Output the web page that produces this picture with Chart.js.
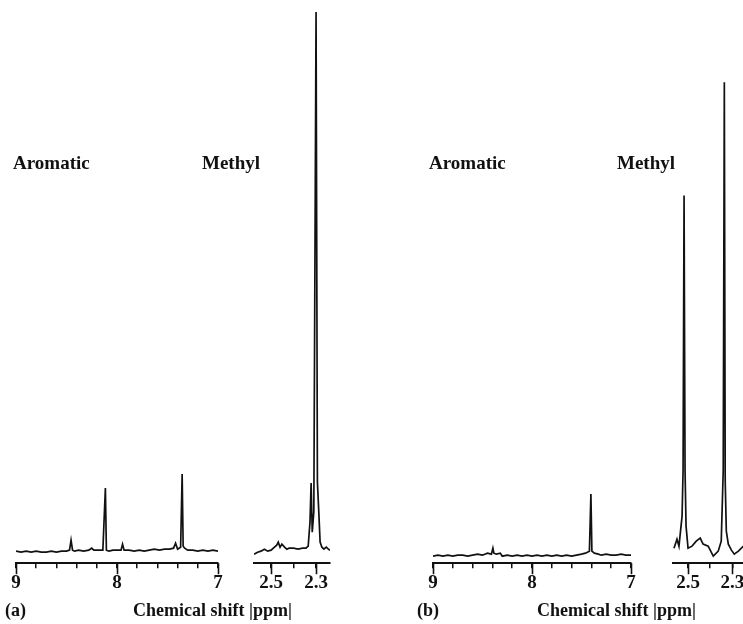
<!DOCTYPE html>
<html>
<head>
<meta charset="utf-8">
<script src="https://cdn.jsdelivr.net/npm/chart.js@4.4.0/dist/chart.umd.min.js"></script>
<style>
  body { margin: 0; background: #fff; }
  #fig { position: relative; width: 743px; height: 624px; overflow: hidden;
         font-family: 'Liberation Serif', 'Times New Roman', serif; font-weight: bold; color: #111; }
  #fig canvas { position: absolute; top: 0; }
  .lbl { position: absolute; line-height: 1; white-space: nowrap; }
  .region { font-size: 19px; }
  .foot { font-size: 18px; }
</style>
</head>
<body>
<div id="fig">
  <canvas id="aAro" width="242" height="624" style="left:-4px"></canvas>
  <canvas id="aMet" width="116" height="624" style="left:234px"></canvas>
  <canvas id="bAro" width="238" height="624" style="left:413px"></canvas>
  <canvas id="bMet" width="117" height="624" style="left:653px"></canvas>

  <div class="lbl region" style="left:13px;top:153px">Aromatic</div>
  <div class="lbl region" style="left:202px;top:153px">Methyl</div>
  <div class="lbl region" style="left:429px;top:153px">Aromatic</div>
  <div class="lbl region" style="left:617px;top:153px">Methyl</div>

  <div class="lbl foot" style="left:5px;top:601px">(a)</div>
  <div class="lbl foot" style="left:133px;top:601px">Chemical shift |ppm|</div>
  <div class="lbl foot" style="left:417px;top:601px">(b)</div>
  <div class="lbl foot" style="left:537px;top:601px">Chemical shift |ppm|</div>
</div>
<script>
// (a) aromatic region, 9 -> 7 ppm
var aAroPpm = [9.00, 8.95, 8.90, 8.85, 8.80, 8.75, 8.70, 8.65, 8.60, 8.55, 8.50, 8.47, 8.455, 8.44, 8.42, 8.38, 8.33, 8.28, 8.25, 8.23,
               8.18, 8.14, 8.115, 8.105, 8.08, 8.04, 8.00, 7.96, 7.945, 7.93, 7.88, 7.83, 7.78, 7.73, 7.68, 7.63, 7.58, 7.53, 7.48, 7.44,
               7.42, 7.40, 7.37, 7.355, 7.345, 7.33, 7.30, 7.25, 7.20, 7.15, 7.10, 7.05, 7.00];
var aAroInt = [1, 0, 1, 0, 1, 0, 0, 1, 0, 1, 1, 2, 12, 2, 1, 2, 1, 2, 4, 2,
               2, 2, 64, 2, 1, 2, 2, 2, 8, 2, 2, 1, 2, 1, 2, 3, 2, 3, 3, 4,
               9, 3, 5, 78, 6, 4, 2, 2, 1, 2, 1, 2, 1];

// (a) methyl region
var aMetPpm = [2.576, 2.56, 2.545, 2.53, 2.515, 2.50, 2.49, 2.475, 2.468, 2.46, 2.452, 2.44, 2.43, 2.42, 2.40, 2.38, 2.36, 2.345,
               2.335, 2.327, 2.322, 2.317, 2.31, 2.30, 2.294, 2.288, 2.282, 2.274, 2.265, 2.255, 2.245, 2.238];
var aMetInt = [-2, 0, 1, 3, 1, 2, 4, 7, 10, 5, 8, 5, 3, 4, 4, 3, 4, 4,
               6, 30, 69, 20, 40, 539, 70, 41, 10, 5, 3, 5, 3, 2];

// (b) aromatic region
var bAroPpm = [9.00, 8.95, 8.90, 8.85, 8.80, 8.75, 8.70, 8.65, 8.60, 8.55, 8.50, 8.45, 8.41, 8.395, 8.385, 8.36, 8.32, 8.30, 8.25, 8.20,
               8.15, 8.10, 8.05, 8.00, 7.95, 7.90, 7.85, 7.80, 7.75, 7.70, 7.65, 7.60, 7.55, 7.50, 7.46, 7.42, 7.405, 7.395, 7.37, 7.33,
               7.30, 7.25, 7.20, 7.15, 7.10, 7.05, 7.00];
var bAroInt = [-4, -3, -4, -3, -4, -3, -3, -4, -3, -2, -3, -1, -2, 4, -1, -2, -1, -4, -3, -4,
               -3, -4, -3, -4, -3, -4, -3, -4, -3, -4, -3, -4, -3, -2, -1, 1, 58, 1, -1, -2,
               -3, -2, -3, -3, -2, -3, -3];

// (b) methyl region
var bMetPpm = [2.5635, 2.55, 2.541, 2.527, 2.5225, 2.518, 2.5135, 2.509, 2.50, 2.482, 2.463, 2.445, 2.432, 2.409, 2.386, 2.3635,
               2.35, 2.341, 2.336, 2.332, 2.327, 2.318, 2.304, 2.291, 2.2725, 2.25, 2.227];
var bMetInt = [4, 13, 6, 36, 81, 356, 81, 26, 4, 6, 11, 14, 8, 6, -4, 1,
               11, 81, 469, 71, 21, 8, 2, -2, 1, 6, 4];

// tick labels
var aroTickLabels = [9, 8, 7];
var metTickLabels = [2.5, 2.3];

Chart.defaults.font.family = "'Liberation Serif', 'Times New Roman', serif";
Chart.defaults.font.weight = 'bold';
Chart.defaults.color = '#111';

// longer ticks under the labelled values
var majorTicks = {
  id: 'majorTicks',
  afterDraw: function(chart, args, opts) {
    var s = chart.scales.x;
    var ctx = chart.ctx;
    ctx.save();
    ctx.strokeStyle = '#111';
    ctx.lineWidth = 1.6;
    (opts.values || []).forEach(function(v) {
      var px = Math.round(s.getPixelForValue(v)) + 0.5;
      ctx.beginPath();
      ctx.moveTo(px, s.top);
      ctx.lineTo(px, s.top + 11);
      ctx.stroke();
    });
    ctx.restore();
  }
};

function spectrum(id, ppm, inten, xmin, xmax, step, labels) {
  new Chart(document.getElementById(id), {
    type: 'line',
    data: {
      datasets: [{
        data: ppm.map(function(p, i) { return {x: p, y: inten[i]}; }),
        borderColor: '#111',
        borderWidth: 1.7,
        pointRadius: 0,
        tension: 0,
        fill: false
      }]
    },
    options: {
      responsive: false,
      animation: false,
      layout: { padding: { left: 20, right: 20, top: 10, bottom: 27 } },
      plugins: {
        legend: { display: false },
        tooltip: { enabled: false },
        majorTicks: { values: labels }
      },
      scales: {
        x: {
          type: 'linear',
          reverse: true,
          min: xmin,
          max: xmax,
          border: { display: true, color: '#111', width: 2 },
          grid: { drawOnChartArea: false, drawTicks: true, tickLength: 5, color: '#111', lineWidth: 1.5 },
          ticks: {
            stepSize: step,
            includeBounds: false,
            autoSkip: false,
            maxRotation: 0,
            padding: 3,
            font: { size: 19, weight: 'bold' },
            color: '#111',
            callback: function(v) {
              for (var i = 0; i < labels.length; i++) {
                if (Math.abs(labels[i] - v) < 1e-6) return String(labels[i]);
              }
              return '';
            }
          }
        },
        y: { display: false, min: -11, max: 541 }
      }
    },
    plugins: [majorTicks]
  });
}

spectrum('aAro', aAroPpm, aAroInt, 7, 9, 0.2, aroTickLabels);
spectrum('aMet', aMetPpm, aMetInt, 2.238, 2.576, 0.1, metTickLabels);
spectrum('bAro', bAroPpm, bAroInt, 7, 9, 0.2, aroTickLabels);
spectrum('bMet', bMetPpm, bMetInt, 2.22, 2.568, 0.1, metTickLabels);
</script>
</body>
</html>
